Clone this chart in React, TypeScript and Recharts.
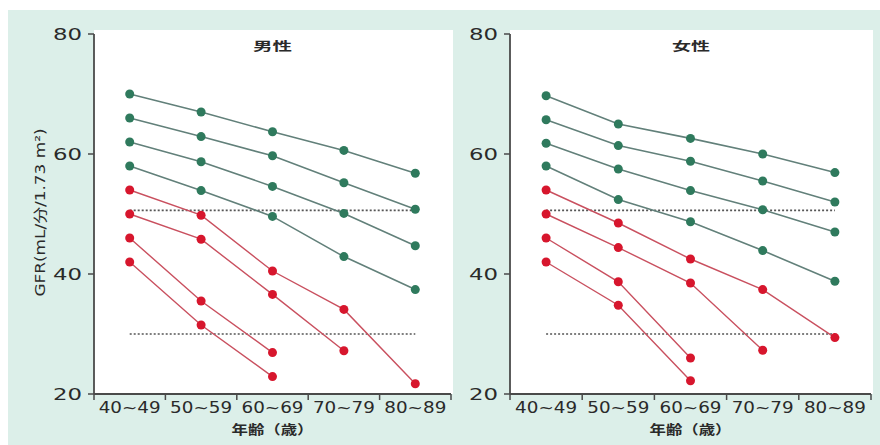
import React from 'react';
import { LineChart, Line, XAxis, YAxis, ReferenceLine } from 'recharts';

const categories = ['40~49', '50~59', '60~69', '70~79', '80~89'];
const yTicks = [20, 40, 60, 80];
const thresholds = [50.6, 30];

const maleG1 = [70, 67, 63.7, 60.6, 56.8];
const maleG2 = [66, 62.9, 59.7, 55.2, 50.8];
const maleG3 = [62, 58.7, 54.6, 50.1, 44.7];
const maleG4 = [58, 53.9, 49.6, 42.9, 37.4];
const maleR1 = [54, 49.8, 40.5, 34.1, 21.7];
const maleR2 = [50, 45.8, 36.6, 27.2, null];
const maleR3 = [46, 35.5, 26.9, null, null];
const maleR4 = [42, 31.5, 22.9, null, null];

const femaleG1 = [69.7, 65, 62.6, 60, 56.9];
const femaleG2 = [65.7, 61.4, 58.8, 55.5, 52];
const femaleG3 = [61.8, 57.5, 53.9, 50.7, 47];
const femaleG4 = [58, 52.4, 48.7, 43.9, 38.8];
const femaleR1 = [54, 48.5, 42.5, 37.4, 29.4];
const femaleR2 = [50, 44.4, 38.5, 27.3, null];
const femaleR3 = [46, 38.7, 26, null, null];
const femaleR4 = [42, 34.8, 22.2, null, null];

const GREEN_DOT = '#2f7a5d';
const GREEN_LINE = '#62807a';
const RED_DOT = '#d7162d';
const RED_LINE = '#c9505f';
const AXIS = '#4a4a4a';
const TEXT = '#2a2a2a';
const FONT = "'DejaVu Sans', 'Noto Sans CJK JP', sans-serif";

const W = 460;
const H = 445;
const M_TOP = 34;
const M_BOTTOM = 21;
const Y_W = 86;
const X_H = 30;

type Series = { values: (number | null)[]; kind: 'g' | 'r' };

const maleSeries: Series[] = [
  { values: maleG1, kind: 'g' },
  { values: maleG2, kind: 'g' },
  { values: maleG3, kind: 'g' },
  { values: maleG4, kind: 'g' },
  { values: maleR1, kind: 'r' },
  { values: maleR2, kind: 'r' },
  { values: maleR3, kind: 'r' },
  { values: maleR4, kind: 'r' },
];
const femaleSeries: Series[] = [
  { values: femaleG1, kind: 'g' },
  { values: femaleG2, kind: 'g' },
  { values: femaleG3, kind: 'g' },
  { values: femaleG4, kind: 'g' },
  { values: femaleR1, kind: 'r' },
  { values: femaleR2, kind: 'r' },
  { values: femaleR3, kind: 'r' },
  { values: femaleR4, kind: 'r' },
];

function Panel(props: {
  left: number;
  marginLeft: number;
  marginRight: number;
  series: Series[];
  showYLabel: boolean;
}) {
  const { left, marginLeft, marginRight, series, showYLabel } = props;
  const plotW = W - marginLeft - Y_W - marginRight;
  const band = plotW / categories.length;
  const axisY = H - M_BOTTOM - X_H;

  const data = categories.map((c, i) => {
    const row: any = { cat: c };
    series.forEach((s, k) => {
      row['s' + k] = s.values[i];
    });
    return row;
  });

  const xTick = (p: any) => {
    const { x, payload, index } = p;
    return (
      <g>
        <text
          x={x}
          y={axisY + 19}
          textAnchor="middle"
          fontSize={15}
          fontFamily={FONT}
          fill={TEXT}
          textLength={62}
          lengthAdjust="spacingAndGlyphs"
        >
          {payload.value}
        </text>
        <line x1={x + band / 2} x2={x + band / 2} y1={axisY} y2={axisY + 6} stroke={AXIS} strokeWidth={1.5} />
        {index === 0 && (
          <line x1={x - band / 2} x2={x - band / 2} y1={axisY} y2={axisY + 6} stroke={AXIS} strokeWidth={1.5} />
        )}
      </g>
    );
  };

  const yTick = (p: any) => {
    const { x, y, payload } = p;
    return (
      <text
        x={x}
        y={y + 6}
        textAnchor="end"
        fontSize={16}
        fontFamily={FONT}
        fill={TEXT}
        textLength={29}
        lengthAdjust="spacingAndGlyphs"
      >
        {payload.value}
      </text>
    );
  };

  const xLabel = (p: any) => {
    const vb = p.viewBox;
    return (
      <text
        x={vb.x + vb.width / 2}
        y={vb.y + 40}
        textAnchor="middle"
        fontSize={13}
        fontWeight="bold"
        fontFamily={FONT}
        fill={TEXT}
        textLength={82}
        lengthAdjust="spacingAndGlyphs"
      >
        年齢（歳）
      </text>
    );
  };

  const yLabel = (p: any) => {
    const vb = p.viewBox;
    const cx = vb.x + 32;
    const cy = vb.y + vb.height / 2 - 1.5;
    return (
      <text
        x={cx}
        y={cy}
        textAnchor="middle"
        dominantBaseline="central"
        transform={`rotate(-90 ${cx} ${cy})`}
        fontSize={14}
        fontFamily={FONT}
        fill={TEXT}
        textLength={168}
        lengthAdjust="spacingAndGlyphs"
      >
        GFR(mL/分/1.73 m²)
      </text>
    );
  };

  return (
    <div style={{ position: 'absolute', left, top: 0, width: W, height: H }}>
      <LineChart
        width={W}
        height={H}
        data={data}
        margin={{ top: M_TOP, right: marginRight, bottom: M_BOTTOM, left: marginLeft }}
      >
        <XAxis
          dataKey="cat"
          type="category"
          height={X_H}
          padding={{ left: band / 2, right: band / 2 }}
          tickLine={false}
          axisLine={{ stroke: AXIS, strokeWidth: 1.8 }}
          tick={xTick}
          interval={0}
          label={{ content: xLabel }}
        />
        <YAxis
          type="number"
          domain={[20, 80]}
          ticks={yTicks}
          width={Y_W}
          tickSize={6}
          tickMargin={6}
          tickLine={{ stroke: AXIS, strokeWidth: 1.5 }}
          axisLine={{ stroke: AXIS, strokeWidth: 1.8 }}
          tick={yTick}
          allowDataOverflow
          label={showYLabel ? { content: yLabel } : undefined}
        />
        {thresholds.map((t, i) => (
          <ReferenceLine
            key={'ref' + i}
            segment={[
              { x: categories[0], y: t },
              { x: categories[categories.length - 1], y: t },
            ]}
            stroke="#555"
            strokeWidth={1.6}
            strokeDasharray="2 2"
          />
        ))}
        {series.map((s, k) => (
          <Line
            key={'s' + k}
            dataKey={'s' + k}
            type="linear"
            stroke={s.kind === 'g' ? GREEN_LINE : RED_LINE}
            strokeWidth={s.kind === 'g' ? 1.6 : 1.4}
            dot={{ r: 4.5, fill: s.kind === 'g' ? GREEN_DOT : RED_DOT, stroke: 'none' }}
            activeDot={false}
            isAnimationActive={false}
            connectNulls={false}
          />
        ))}
      </LineChart>
    </div>
  );
}

export default function App() {
  return (
    <div style={{ position: 'absolute', left: 0, top: 0, width: 880, height: 445, background: '#ffffff', overflow: 'hidden' }}>
      <div style={{ position: 'absolute', left: 8, top: 10, width: 872, height: 435, background: '#dcefe9' }} />
      <div style={{ position: 'absolute', left: 94, top: 30, width: 359, height: 364, background: '#ffffff' }} />
      <div style={{ position: 'absolute', left: 510, top: 30, width: 363, height: 364, background: '#ffffff' }} />
      <Panel left={0} marginLeft={8} marginRight={9} series={maleSeries} showYLabel={true} />
      <Panel left={420} marginLeft={4} marginRight={9} series={femaleSeries} showYLabel={false} />
      <svg style={{ position: 'absolute', left: 0, top: 0 }} width={880} height={60}>
        <text x={272.5} y={51} textAnchor="middle" fontSize={12} fontWeight="bold" fontFamily={FONT} fill={TEXT} textLength={39} lengthAdjust="spacingAndGlyphs">
          男性
        </text>
        <text x={691} y={51} textAnchor="middle" fontSize={12} fontWeight="bold" fontFamily={FONT} fill={TEXT} textLength={38} lengthAdjust="spacingAndGlyphs">
          女性
        </text>
      </svg>
    </div>
  );
}
